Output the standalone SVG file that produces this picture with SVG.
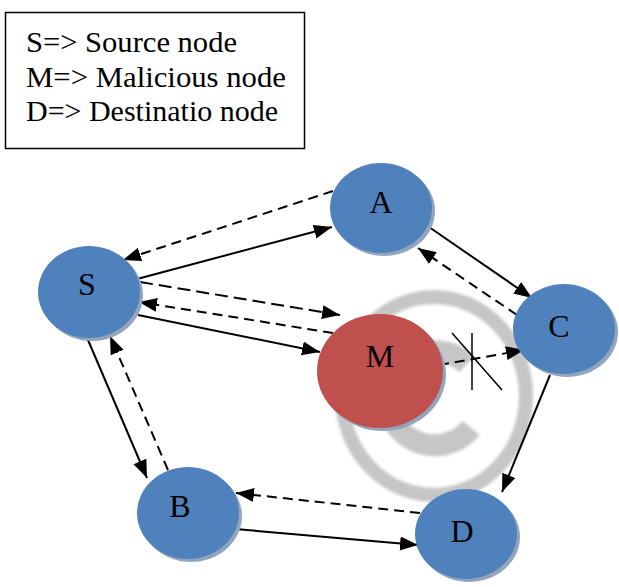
<svg xmlns="http://www.w3.org/2000/svg" width="619" height="587" viewBox="0 0 619 587">
<defs>
<marker id="ah" markerUnits="userSpaceOnUse" markerWidth="19" markerHeight="15" refX="18" refY="7" orient="auto">
<path d="M0,0 L18,7 L0,14 z" fill="#000"/>
</marker>
<filter id="blur" x="-10%" y="-10%" width="120%" height="120%"><feGaussianBlur stdDeviation="1.5"/></filter>
</defs>
<style>
.legend{font-family:"Liberation Serif","Times New Roman",serif;font-size:30px;fill:#000}
.lbl{font-family:"Liberation Serif","Times New Roman",serif;font-size:32px;fill:#000;text-anchor:middle}
.blue{fill:#4F81BD}
.red{fill:#C0504D}
.shadow{fill:#93A5BC}
.solid{stroke:#000;stroke-width:2;fill:none;marker-end:url(#ah)}
.dash{stroke:#000;stroke-width:2;fill:none;stroke-dasharray:10 6;marker-end:url(#ah)}
.wm{fill:none;stroke:#C6C6C6}
</style>
<rect width="619" height="587" fill="#fff"/>
<g id="watermark" filter="url(#blur)">
<ellipse class="wm" cx="434" cy="396" rx="92" ry="99" stroke-width="14"/>
<path class="wm" d="M467,364 A47,47 0 1 0 471,428" stroke-width="22"/>
</g>
<g id="legend">
<rect x="5.5" y="12.5" width="299" height="136" fill="#fff" stroke="#000" stroke-width="1.5"/>
<text class="legend" x="26" y="52" textLength="211" lengthAdjust="spacingAndGlyphs">S=&gt; Source node</text>
<text class="legend" x="26" y="87" textLength="260" lengthAdjust="spacingAndGlyphs">M=&gt; Malicious node</text>
<text class="legend" x="26" y="121" textLength="252" lengthAdjust="spacingAndGlyphs">D=&gt; Destinatio node</text>
</g>
<g id="connectors">
<line class="dash" x1="333" y1="191" x2="123" y2="260"/>
<line class="solid" x1="137" y1="279" x2="332" y2="227"/>
<line class="dash" x1="140" y1="282" x2="340" y2="315" style="stroke-dasharray:13 6"/>
<line class="dash" x1="333" y1="333" x2="139" y2="302"/>
<line class="solid" x1="138" y1="315" x2="320" y2="352"/>
<line class="solid" x1="85" y1="333" x2="147" y2="478"/>
<line class="dash" x1="168" y1="470" x2="110" y2="336"/>
<line class="solid" x1="235" y1="529" x2="418" y2="545"/>
<line class="dash" x1="420" y1="513" x2="236" y2="493"/>
<line class="solid" x1="429" y1="227" x2="532" y2="298"/>
<line class="dash" x1="517" y1="315" x2="418" y2="248"/>
<line class="solid" x1="550" y1="375" x2="502" y2="492"/>
<line class="dash" x1="439" y1="365" x2="524" y2="350"/>
<line x1="472" y1="333" x2="472" y2="390" stroke="#000" stroke-width="1.5"/>
<line x1="452" y1="333" x2="502" y2="390" stroke="#000" stroke-width="1.5"/>
</g>
<g id="node-A">
<ellipse class="shadow" cx="384" cy="211" rx="51" ry="45"/>
<ellipse class="blue" cx="381" cy="208" rx="51" ry="45"/>
<text class="lbl" x="381" y="213">A</text>
</g>
<g id="node-S">
<ellipse class="shadow" cx="92" cy="295" rx="51" ry="46"/>
<ellipse class="blue" cx="89" cy="292" rx="51" ry="46"/>
<text class="lbl" x="87" y="295">S</text>
</g>
<g id="node-M">
<ellipse class="shadow" cx="383" cy="374" rx="63" ry="57"/>
<ellipse class="red" cx="380" cy="371" rx="63" ry="57"/>
<text class="lbl" x="380" y="367">M</text>
</g>
<g id="node-C">
<ellipse class="shadow" cx="567" cy="332" rx="51" ry="45"/>
<ellipse class="blue" cx="564" cy="329" rx="51" ry="45"/>
<text class="lbl" x="559" y="337">C</text>
</g>
<g id="node-B">
<ellipse class="shadow" cx="191" cy="516" rx="51" ry="46"/>
<ellipse class="blue" cx="188" cy="513" rx="51" ry="46"/>
<text class="lbl" x="180" y="517">B</text>
</g>
<g id="node-D">
<ellipse class="shadow" cx="469" cy="537" rx="51" ry="45"/>
<ellipse class="blue" cx="466" cy="534" rx="51" ry="45"/>
<text class="lbl" x="462" y="542">D</text>
</g>
</svg>
